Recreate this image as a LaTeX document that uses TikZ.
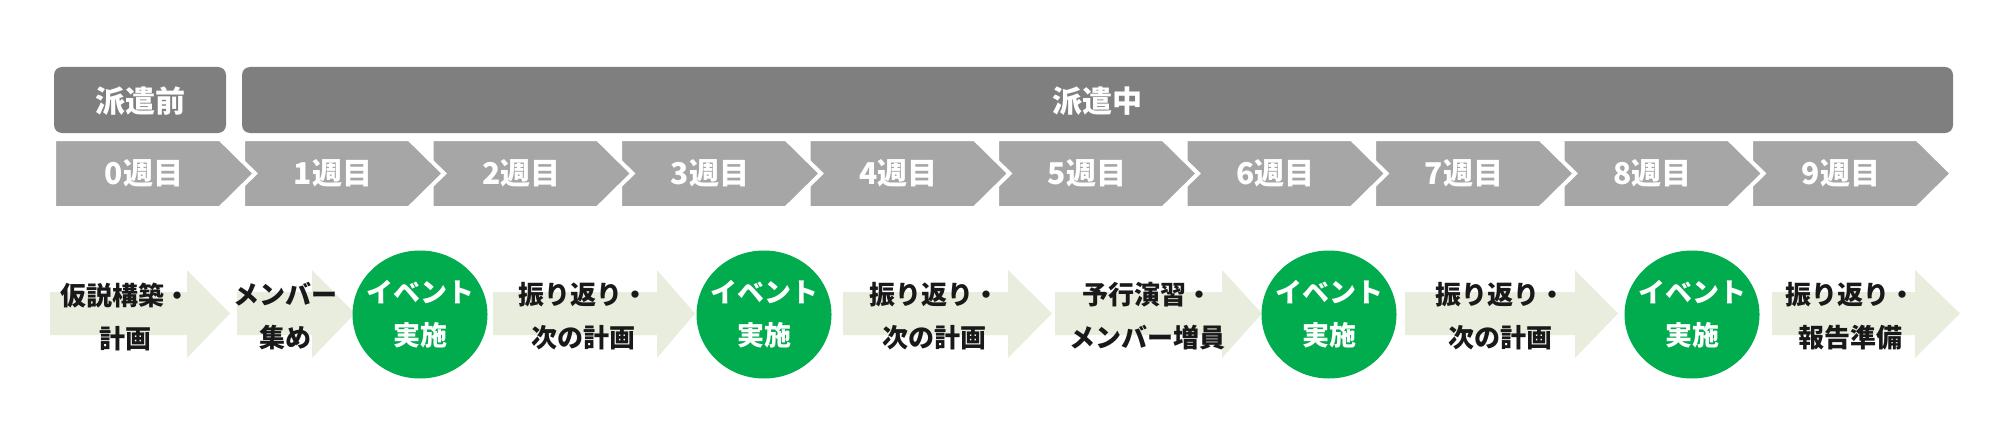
\documentclass[tikz,border=0pt]{standalone}
\usepackage{fontspec}
\setmainfont{Noto Sans CJK JP}
\usetikzlibrary{shapes.geometric}
\definecolor{phasegray}{RGB}{127,127,127}
\definecolor{weekgray}{RGB}{166,166,166}
\definecolor{stepfill}{RGB}{233,237,222}
\definecolor{eventgreen}{RGB}{0,172,77}
\tikzset{
  phasebox/.style={fill=phasegray,rounded corners=4pt},
  phaselabel/.style={text=white,font=\fontsize{15}{18}\selectfont\bfseries},
  chev/.style={fill=weekgray,draw=white,line width=2pt},
  weeklabel/.style={text=white,font=\fontsize{15}{18}\selectfont\bfseries},
  steplabel/.style={align=center,text=black!90,font=\fontsize{13}{21.5}\selectfont\bfseries},
  eventnode/.style={ellipse,fill=eventgreen,minimum width=67.5pt,minimum height=64pt,inner sep=0pt},
  eventlabel/.style={align=center,text=white,font=\fontsize{13.5}{21.5}\selectfont\bfseries}
}
% week chevron: name, left edge, label
\newcommand{\weekchev}[3]{%
  \filldraw[chev] (#2,285) -- ++(166,0) -- ++(35,-34.5) -- ++(-35,-34.5) -- ++(-166,0) -- cycle;
  \node[weeklabel] (#1) at ({#2+90},250.5) {#3};
}
% step arrow: name, start, head base, tip, text x, text
\newcommand{\steparrow}[6]{%
  \fill[stepfill] (#2,132) -- (#3,132) -- (#3,154) -- (#4,110.5) -- (#3,66) -- (#3,89) -- (#2,89) -- cycle;
  \node[steplabel] (#1) at (#5,107.5) {#6};
}
% event circle: name, centre x
\newcommand{\eventdot}[2]{%
  \node[eventnode] (#1) at (#2,109.5) {};
  \node[eventlabel] (#1t) at (#1) {イベント\\実施};
}

\begin{document}
\begin{tikzpicture}[x=0.5pt,y=0.5pt]
  \useasboundingbox (0,0) rectangle (2000,424);

  % phases
  \fill[phasebox] (54,357) rectangle (226,291);
  \fill[phasebox] (242,357) rectangle (1953,291);
  \node[phaselabel] (pre) at (140,323) {派遣前};
  \node[phaselabel] (during) at (1097,323) {派遣中};

  % weeks, drawn right to left so each tip lies on the next box
  \weekchev{W9}{1751}{9週目}
  \weekchev{W8}{1562.5}{8週目}
  \weekchev{W7}{1374}{7週目}
  \weekchev{W6}{1185.5}{6週目}
  \weekchev{W5}{997}{5週目}
  \weekchev{W4}{808.5}{4週目}
  \weekchev{W3}{620}{3週目}
  \weekchev{W2}{431.5}{2週目}
  \weekchev{W1}{243}{1週目}
  \weekchev{W0}{54}{0週目}

  % steps
  \steparrow{S1}{50}{187}{230}{125}{仮説構築・\\計画}
  \steparrow{S2}{237}{312}{355}{285}{メンバー\\集め}
  \steparrow{S3}{493}{657}{695}{583}{振り返り・\\次の計画}
  \steparrow{S4}{843}{1008}{1052}{934}{振り返り・\\次の計画}
  \steparrow{S5}{1055}{1222}{1262}{1147}{予行演習・\\メンバー増員}
  \steparrow{S6}{1405}{1575}{1618}{1500}{振り返り・\\次の計画}
  \steparrow{S7}{1772}{1915}{1960}{1850}{振り返り・\\報告準備}

  % events
  \eventdot{E1}{420}
  \eventdot{E2}{764}
  \eventdot{E3}{1329}
  \eventdot{E4}{1692}
\end{tikzpicture}
\end{document}
